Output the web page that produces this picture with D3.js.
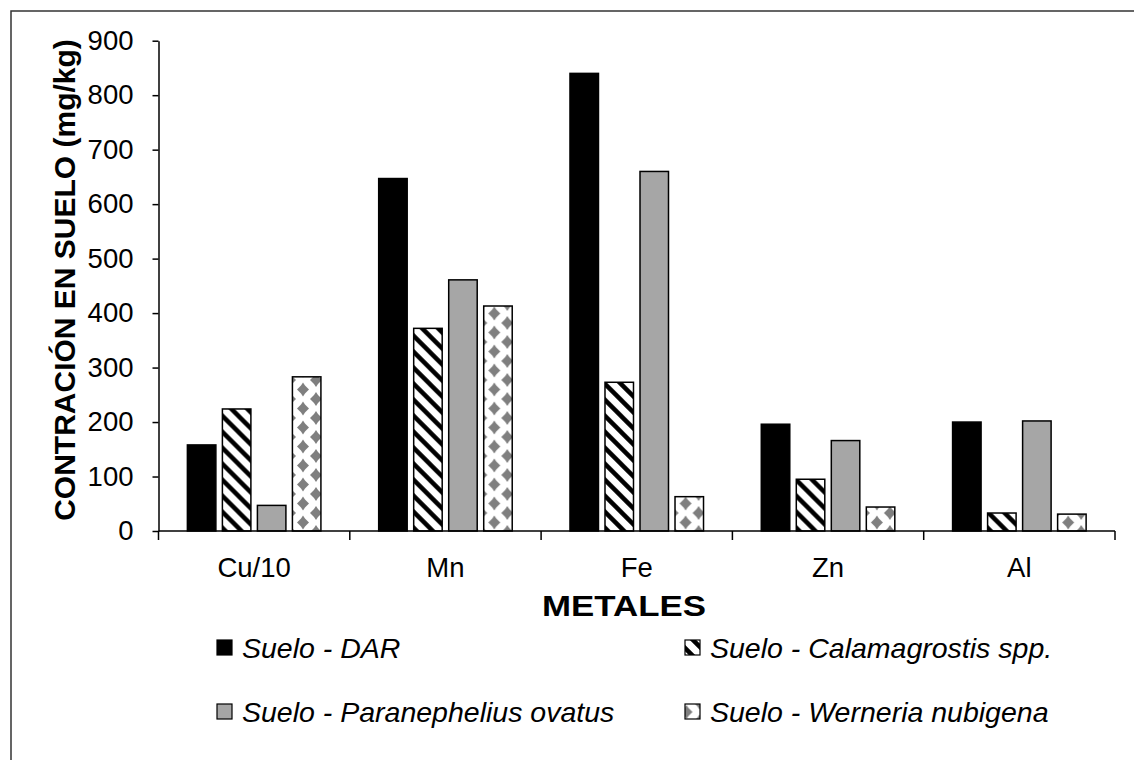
<!DOCTYPE html>
<html>
<head>
<meta charset="utf-8">
<script src="https://cdn.jsdelivr.net/npm/d3@7"></script>
<style>
  html, body { margin: 0; padding: 0; background: #fff; }
  svg { display: block; font-family: "Liberation Sans", Arial, sans-serif; }
</style>
</head>
<body>
<script>
// Metal concentrations in soil (mg/kg) by sampling source
const categories = ["Cu/10", "Mn", "Fe", "Zn", "Al"];
const seriesNames = [
  "Suelo - DAR",
  "Suelo - Calamagrostis spp.",
  "Suelo - Paranephelius ovatus",
  "Suelo - Werneria nubigena"
];
const sueloDAR = [158, 647, 840, 196, 200];
const sueloCalamagrostis = [224, 372, 273, 95, 33];
const sueloParanephelius = [47, 461, 660, 166, 202];
const sueloWerneria = [283, 413, 63, 44, 31];
const yTicks = [0, 100, 200, 300, 400, 500, 600, 700, 800, 900];

const seriesValues = [sueloDAR, sueloCalamagrostis, sueloParanephelius, sueloWerneria];
const fills = ["#000000", "url(#hatch)", "#a6a6a6", "url(#dots)"];

const W = 1134, H = 760;
const svg = d3.select("body").append("svg").attr("width", W).attr("height", H);

// Patterns for the hatched and dotted bars
const defs = svg.append("defs");
const hatch = defs.append("pattern")
  .attr("id", "hatch").attr("patternUnits", "userSpaceOnUse")
  .attr("width", 16).attr("height", 16);
hatch.append("rect").attr("width", 16).attr("height", 16).attr("fill", "#fff");
hatch.append("path")
  .attr("d", "M-4,-4 L20,20 M-4,12 L4,20 M12,-4 L20,4")
  .attr("stroke", "#000").attr("stroke-width", 4.5);

const dots = defs.append("pattern")
  .attr("id", "dots").attr("patternUnits", "userSpaceOnUse")
  .attr("width", 26).attr("height", 19)
  .attr("x", 1.5).attr("y", 0);
dots.append("rect").attr("width", 26).attr("height", 19).attr("fill", "#fff");
// diamond blob with short arms
const blob = (cx, cy) =>
  `M${cx},${cy-7} L${cx+2},${cy-4} L${cx+6},${cy} L${cx+2},${cy+4} L${cx},${cy+7} ` +
  `L${cx-2},${cy+4} L${cx-6},${cy} L${cx-2},${cy-4} Z`;
dots.append("path")
  .attr("d", [blob(0,0), blob(26,0), blob(0,19), blob(26,19), blob(13,9.5)].join(" "))
  .attr("fill", "#7f7f7f");

// Outer frame
svg.append("rect")
  .attr("x", 11).attr("y", 11).attr("width", 1140).attr("height", 760)
  .attr("fill", "none").attr("stroke", "#333").attr("stroke-width", 1.5);

const x0 = d3.scaleBand().domain(categories).range([158.5, 1115]).padding(0);
const x1 = d3.scaleBand().domain(seriesNames).range([0, x0.bandwidth()])
  .paddingInner(0.186).paddingOuter(0.825);
const y = d3.scaleLinear().domain([0, 900]).range([531, 40.7]);

// Bars
const groups = svg.append("g").selectAll("g")
  .data(categories)
  .join("g")
  .attr("transform", d => `translate(${x0(d)},0)`);

groups.selectAll("rect")
  .data((c, i) => seriesNames.map((s, j) => ({ s, j, v: seriesValues[j][i] })))
  .join("rect")
  .attr("x", d => x1(d.s))
  .attr("width", x1.bandwidth())
  .attr("y", d => y(d.v))
  .attr("height", d => y(0) - y(d.v))
  .attr("fill", d => fills[d.j])
  .attr("stroke", "#000")
  .attr("stroke-width", 1.5);

// Y axis
const yAxis = svg.append("g")
  .attr("transform", "translate(158.5,0)")
  .call(d3.axisLeft(y).tickValues(yTicks).tickSize(6).tickPadding(19).tickSizeOuter(0));
yAxis.select(".domain").attr("stroke", "#000").attr("stroke-width", 1.5);
yAxis.selectAll(".tick line").attr("stroke", "#000").attr("stroke-width", 1.5);
yAxis.selectAll(".tick text")
  .attr("font-size", 27.5).attr("fill", "#000")
  .attr("font-family", "'Liberation Sans', Arial, sans-serif");

// X axis: line, boundary ticks and centred labels
const xAxis = svg.append("g").attr("transform", `translate(0,${y(0)})`);
xAxis.append("line")
  .attr("x1", 158.5).attr("x2", 1115)
  .attr("stroke", "#000").attr("stroke-width", 1.5);
const bounds = categories.map(c => x0(c)).concat([x0(categories[categories.length - 1]) + x0.bandwidth()]);
xAxis.selectAll("line.tk").data(bounds).join("line")
  .attr("class", "tk")
  .attr("x1", d => d).attr("x2", d => d)
  .attr("y1", 0).attr("y2", 9)
  .attr("stroke", "#000").attr("stroke-width", 1.5);
xAxis.selectAll("text").data(categories).join("text")
  .attr("x", d => x0(d) + x0.bandwidth() / 2)
  .attr("y", 46)
  .attr("text-anchor", "middle")
  .attr("font-size", 27.5)
  .text(d => d);

// Axis titles
svg.append("text")
  .attr("x", 624).attr("y", 616)
  .attr("text-anchor", "middle")
  .attr("font-size", 30).attr("font-weight", "bold")
  .attr("textLength", 164).attr("lengthAdjust", "spacingAndGlyphs")
  .text("METALES");

svg.append("text")
  .attr("transform", "translate(75,280) rotate(-90)")
  .attr("text-anchor", "middle")
  .attr("font-size", 30).attr("font-weight", "bold")
  .text("CONTRACIÓN EN SUELO (mg/kg)");

// Legend
const legendPos = [
  { x: 217, y: 648 },
  { x: 685, y: 648 },
  { x: 217, y: 712 },
  { x: 685, y: 712 }
];
const legend = svg.append("g").selectAll("g")
  .data(seriesNames)
  .join("g")
  .attr("transform", (d, i) => `translate(${legendPos[i].x},${legendPos[i].y})`);
legend.append("rect")
  .attr("x", 0).attr("y", -8).attr("width", 15).attr("height", 15)
  .attr("fill", (d, i) => fills[i])
  .attr("stroke", "#000").attr("stroke-width", 1.2);
legend.append("text")
  .attr("x", 25).attr("y", 9.5)
  .attr("font-size", 28.5).attr("font-style", "italic")
  .text(d => d);
</script>
</body>
</html>
